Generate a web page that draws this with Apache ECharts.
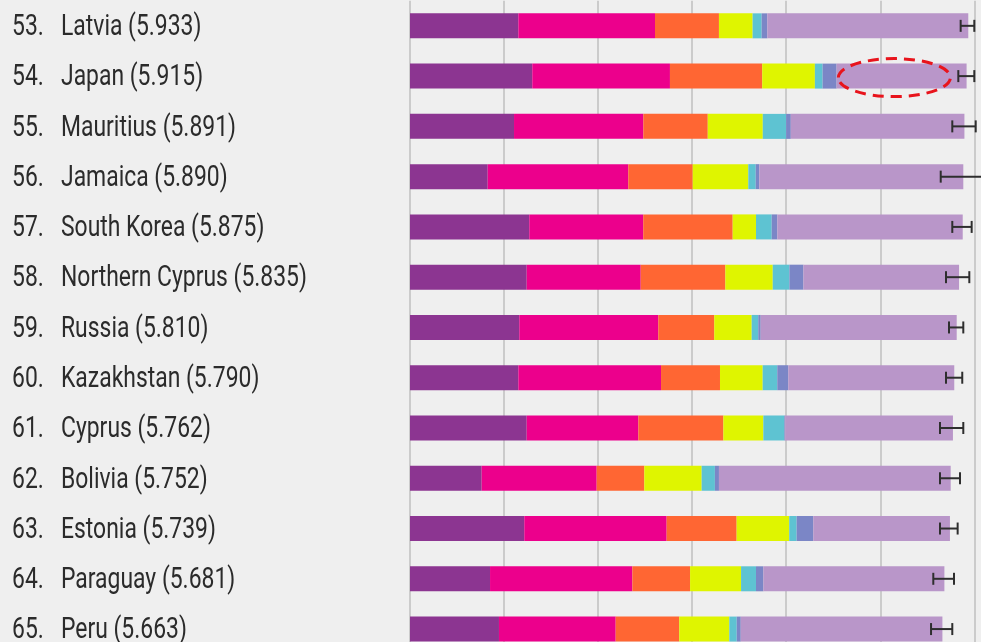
<!DOCTYPE html>
<html><head><meta charset="utf-8">
<script src="https://cdn.jsdelivr.net/npm/echarts@6/dist/echarts.min.js"></script>
<style>html,body{margin:0;padding:0;background:#efefef;}#c{width:981px;height:642px;}</style>
</head><body><div id="c"></div>
<script>
const ranks = ['53.','54.','55.','56.','57.','58.','59.','60.','61.','62.','63.','64.','65.'];
const countries = ['Latvia','Japan','Mauritius','Jamaica','South Korea','Northern Cyprus','Russia','Kazakhstan','Cyprus','Bolivia','Estonia','Paraguay','Peru'];
const scores = [5.933,5.915,5.891,5.890,5.875,5.835,5.810,5.790,5.762,5.752,5.739,5.681,5.663];
const gdp        = [1.152,1.300,1.106,0.826,1.268,1.241,1.162,1.152,1.241,0.762,1.215,0.851,0.946];
const social     = [1.453,1.464,1.375,1.495,1.212,1.212,1.478,1.517,1.187,1.223,1.514,1.513,1.241];
const health     = [0.680,0.981,0.685,0.685,0.951,0.900,0.595,0.627,0.904,0.506,0.744,0.614,0.676];
const freedom    = [0.358,0.560,0.585,0.591,0.248,0.504,0.398,0.454,0.425,0.610,0.559,0.542,0.532];
const generosity = [0.096,0.082,0.248,0.079,0.167,0.177,0.070,0.155,0.223,0.141,0.079,0.159,0.079];
const corruption = [0.060,0.149,0.050,0.038,0.060,0.149,0.026,0.117,0.010,0.043,0.177,0.078,0.043];
const dystopia   = [2.137,1.382,1.846,2.169,1.971,1.655,2.084,1.765,1.783,2.464,1.453,1.925,2.144];
const ciLow  = [5.855,5.830,5.766,5.643,5.766,5.699,5.731,5.699,5.635,5.635,5.635,5.564,5.540];
const ciHigh = [6.000,6.000,6.015,6.200,5.972,5.947,5.883,5.872,5.883,5.848,5.823,5.784,5.766];
const xTicksMax = 6;
const annotation = { row: 1, center: 5.15 };

const components = [
  {name:'GDP per capita', data:gdp, color:'#8c3591'},
  {name:'Social support', data:social, color:'#ec008c'},
  {name:'Healthy life expectancy', data:health, color:'#ff6633'},
  {name:'Freedom', data:freedom, color:'#dff500'},
  {name:'Generosity', data:generosity, color:'#5ec3d2'},
  {name:'Corruption', data:corruption, color:'#7b86c6'},
  {name:'Dystopia + residual', data:dystopia, color:'#b996c9'}
];

const chart = echarts.init(document.getElementById('c'));
const FONT = "Roboto, 'Noto Sans', sans-serif";
const FS = 29, SX = 0.79, TXT = '#2b2b2b';
const series = components.map(c => ({
  name: c.name, type:'bar', stack:'total', barWidth:25, data:c.data,
  itemStyle:{color:c.color}, silent:true, animation:false
}));
// error bars
series.push({
  type:'custom', clip:false, animation:false, z:10,
  encode:{x:[0,1], y:2},
  data: countries.map((c,i)=>[ciLow[i], ciHigh[i], i]),
  renderItem(params, api){
    const idx = api.value(2);
    const p1 = api.coord([api.value(0), idx]);
    const p2 = api.coord([api.value(1), idx]);
    const y = p1[1], h = 6;
    const st = {stroke:'#2e2e2e', lineWidth:2};
    return {type:'group', children:[
      {type:'line', shape:{x1:p1[0],y1:y,x2:p2[0],y2:y}, style:st},
      {type:'line', shape:{x1:p1[0],y1:y-h,x2:p1[0],y2:y+h}, style:st},
      {type:'line', shape:{x1:p2[0],y1:y-h,x2:p2[0],y2:y+h}, style:st}
    ]};
  }
});
// row labels (rank + country + score), placed on the category axis rows
series.push({
  type:'custom', clip:false, animation:false, z:10, silent:true,
  encode:{x:0, y:1},
  data: countries.map((c,i)=>[0, i]),
  renderItem(params, api){
    const i = api.value(1);
    const y = api.coord([0, i])[1] + 2;
    const font = FS + 'px ' + FONT;
    return {type:'group', children:[
      {type:'text', x:12, y:y, scaleX:SX, style:{text:ranks[i], font, fill:TXT, textAlign:'left', textVerticalAlign:'middle'}},
      {type:'text', x:61, y:y, scaleX:SX, style:{text:countries[i]+' ('+scores[i].toFixed(3)+')', font, fill:TXT, textAlign:'left', textVerticalAlign:'middle'}}
    ]};
  }
});

chart.setOption({
  backgroundColor:'#efefef',
  animation:false,
  grid:{left:410, top:0.7, width:564.3, height:653.5, outerBoundsMode:'none', containLabel:false},
  xAxis:{type:'value', min:0, max:xTicksMax, interval:1,
    axisLabel:{show:false}, axisLine:{show:false}, axisTick:{show:false},
    splitLine:{show:true, lineStyle:{color:'#cbcbcb', width:2}}},
  yAxis:{type:'category', inverse:true, data:countries,
    axisLine:{show:false}, axisTick:{show:false}, splitLine:{show:false},
    axisLabel:{show:false}},
  series
});

const c = chart.convertToPixel({gridIndex:0}, [annotation.center, annotation.row]);
chart.setOption({graphic:[{type:'ellipse', z:100,
  shape:{cx:c[0], cy:c[1]+1.5, rx:56, ry:19},
  style:{fill:null, stroke:'#e8141c', lineWidth:3, lineDash:[11,7]}}]});
</script></body></html>
